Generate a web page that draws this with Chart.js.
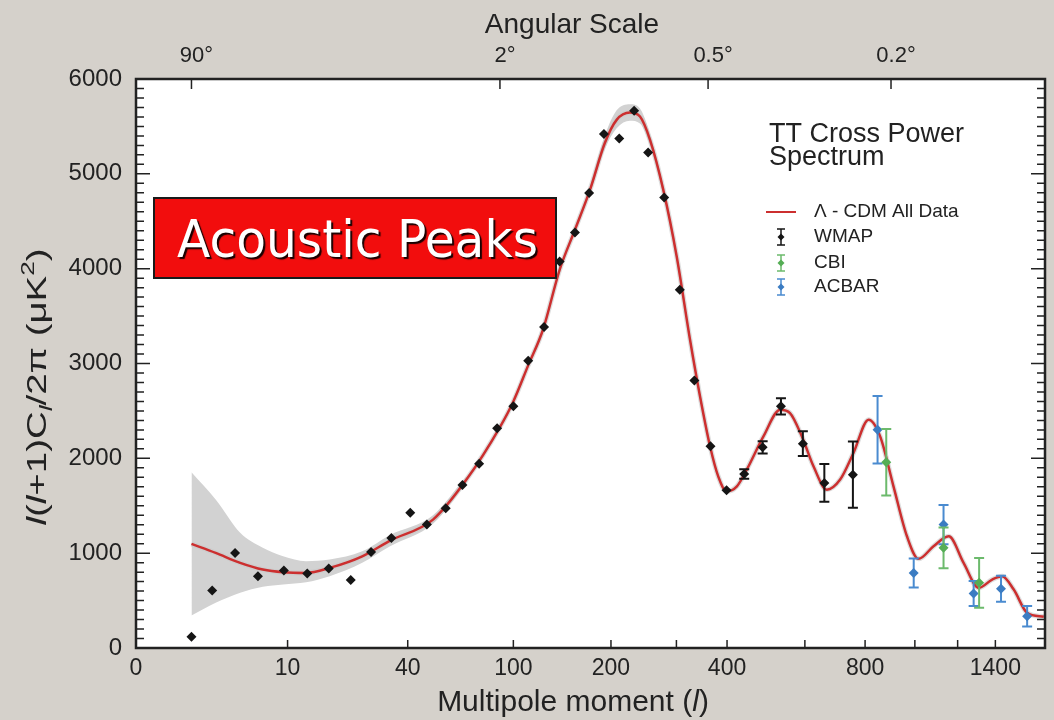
<!DOCTYPE html>
<html>
<head>
<meta charset="utf-8">
<title>TT Cross Power Spectrum</title>
<script src="https://cdn.jsdelivr.net/npm/chart.js@4.4.1/dist/chart.umd.min.js"></script>
<style>
  html, body { margin: 0; padding: 0; background: #d5d1cb; }
  #wrap { width: 1054px; height: 720px; }
</style>
</head>
<body>
<div id="wrap"><canvas id="spectrum" width="1054" height="720"></canvas></div>
<script>
// Axis ticks: multipole moment along the bottom, angular scale along the top
const xTickValues = [0, 10, 40, 100, 200, 300, 400, 600, 800, 1000, 1200, 1400];
const xTickLabels = ['0', '10', '40', '100', '200', '', '400', '', '800', '', '', '1400'];
const angleTickValues = [2, 90, 360, 900];
const angleTickLabels = ['90°', '2°', '0.5°', '0.2°'];
const L_MIN = 0.52;
const L_MAX = 1700;

// WMAP band powers
const wmapL = [2, 3, 4.5, 6.5, 9.5, 13, 17, 22, 27.5, 34, 41, 48, 57, 66, 76, 88, 100, 112, 126, 141,
  157, 173, 191, 211, 232, 253, 279, 306, 333, 365, 399, 439, 484, 532, 594, 660, 756];
const wmapVal = [118, 606, 1003, 757, 817, 785, 838, 718, 1013, 1161, 1425, 1301, 1473, 1720, 1944, 2316, 2548, 3030, 3385, 4076,
  4382, 4797, 5421, 5372, 5664, 5224, 4750, 3778, 2822, 2127, 1663, 1836, 2116, 2548, 2155, 1741, 1828];
const wmapErr = [0, 0, 0, 0, 0, 0, 0, 0, 0, 0, 0, 0, 0, 0, 0, 0, 0, 0, 0, 0,
  0, 0, 0, 0, 0, 0, 0, 0, 0, 0, 0, 50, 65, 85, 130, 200, 350];

// CBI
const cbiL = [881, 1131, 1311];
const cbiVal = [1958, 1056, 687];
const cbiErr = [350, 214, 263];

// ACBAR
const acbarL = [847, 995, 1131, 1282, 1432, 1587];
const acbarVal = [2302, 792, 1301, 574, 624, 335];
const acbarErr = [356, 153, 207, 132, 137, 109];

// Lambda-CDM best fit to all data
const modelL = [2, 3.2, 4.9, 7, 9.4, 12.8, 17.2, 25, 33.4, 50.8, 68.3, 90, 100, 112, 125, 141, 157, 174, 192, 207.5,
  226, 240.6, 256, 277.5, 300.5, 324.8, 344, 364, 381, 399, 422, 445, 486, 530, 557, 591, 626, 668, 712, 758,
  813, 857, 910, 966, 1016, 1084, 1156, 1230, 1309, 1382, 1438, 1506, 1587, 1692];
const modelVal = [1098, 1003, 898, 827, 799, 792, 845, 967, 1130, 1354, 1776, 2330, 2600, 2980, 3356, 3988, 4410, 4831, 5323, 5569,
  5646, 5604, 5358, 4831, 4129, 3251, 2653, 2127, 1810, 1652, 1705, 1881, 2232, 2513, 2478, 2232, 1916, 1670, 1776, 2057,
  2408, 2232, 1705, 1178, 940, 1073, 1178, 898, 634, 722, 757, 616, 371, 329];

// cosmic variance band, large scales
const bandL = [2, 3.2, 4.9, 7, 9.4, 12.8, 17.2, 25, 33.4, 50.8, 68.3];
const bandHi = [1853, 1565, 1214, 1056, 967, 915, 933, 1020, 1190, 1400, 1810];
const bandLo = [342, 476, 582, 645, 669, 693, 757, 898, 1070, 1310, 1740];

// cosmic variance band around the first peak
const peakBandL = [174, 192, 207.5, 226, 240.6, 256, 277.5];
const peakBandHi = [4870, 5400, 5670, 5735, 5690, 5420, 4870];
const peakBandLo = [4800, 5260, 5480, 5560, 5530, 5300, 4790];

const FONT = '"Liberation Sans", Arial, Helvetica, sans-serif';
const INK = '#222';

const toPoints = (xs, ys) => xs.map((x, i) => ({ x: x, y: ys[i] }));

// Multipole axis: position goes as l^(1/4)
const tickSets = { x: xTickValues, xTop: angleTickValues };

class QuarterPowerScale extends Chart.LinearScale {
  buildTicks() {
    return (tickSets[this.id] || []).map(v => ({ value: v }));
  }
  getPixelForValue(value) {
    if (value === null || isNaN(value)) {
      return NaN;
    }
    const t0 = Math.pow(this.min, 0.25);
    const t1 = Math.pow(this.max, 0.25);
    const t = Math.pow(Math.max(value, this.min), 0.25);
    return this.getPixelForDecimal((t - t0) / (t1 - t0));
  }
  getValueForPixel(pixel) {
    const t0 = Math.pow(this.min, 0.25);
    const t1 = Math.pow(this.max, 0.25);
    return Math.pow(t0 + this.getDecimalForPixel(pixel) * (t1 - t0), 4);
  }
}
QuarterPowerScale.id = 'quarterpower';
QuarterPowerScale.defaults = {};
Chart.register(QuarterPowerScale);

// Page background and white plot area
const backdrop = {
  id: 'backdrop',
  beforeDraw(chart) {
    const { ctx, chartArea: a } = chart;
    ctx.save();
    ctx.fillStyle = '#d5d1cb';
    ctx.fillRect(0, 0, chart.width, chart.height);
    ctx.fillStyle = '#ffffff';
    ctx.fillRect(a.left, a.top, a.right - a.left, a.bottom - a.top);
    ctx.restore();
  }
};

// Vertical error bars with caps, drawn just under each point set
const errorBars = {
  id: 'errorBars',
  beforeDatasetDraw(chart, args) {
    const ds = chart.data.datasets[args.index];
    if (!ds.errors) {
      return;
    }
    const y = chart.scales.y;
    const ctx = chart.ctx;
    ctx.save();
    ctx.strokeStyle = ds.barColor;
    ctx.lineWidth = 2;
    args.meta.data.forEach((pt, i) => {
      const e = ds.errors[i];
      if (!e) {
        return;
      }
      const v = ds.data[i].y;
      const top = y.getPixelForValue(v + e);
      const bot = y.getPixelForValue(v - e);
      ctx.beginPath();
      ctx.moveTo(pt.x, top);
      ctx.lineTo(pt.x, bot);
      ctx.moveTo(pt.x - 5, top);
      ctx.lineTo(pt.x + 5, top);
      ctx.moveTo(pt.x - 5, bot);
      ctx.lineTo(pt.x + 5, bot);
      ctx.stroke();
    });
    ctx.restore();
  }
};

// Box frame and inward tick marks
const frameTicks = {
  id: 'frameTicks',
  afterDatasetsDraw(chart) {
    const { ctx, chartArea: a, scales } = chart;
    ctx.save();
    ctx.strokeStyle = INK;
    ctx.lineWidth = 1.5;
    ctx.beginPath();
    scales.x.ticks.forEach((t, i) => {
      const px = scales.x.getPixelForTick(i);
      if (px > a.left + 2) {
        ctx.moveTo(px, a.bottom);
        ctx.lineTo(px, a.bottom - 8);
      }
    });
    scales.xTop.ticks.forEach((t, i) => {
      const px = scales.xTop.getPixelForTick(i);
      ctx.moveTo(px, a.top);
      ctx.lineTo(px, a.top + 10);
    });
    for (let v = scales.y.min; v <= scales.y.max; v += 100) {
      const py = scales.y.getPixelForValue(v);
      const len = v % 1000 === 0 ? 14 : 8;
      ctx.moveTo(a.left, py);
      ctx.lineTo(a.left + len, py);
      ctx.moveTo(a.right, py);
      ctx.lineTo(a.right - len, py);
    }
    ctx.stroke();
    ctx.lineWidth = 2.5;
    ctx.strokeRect(a.left, a.top, a.right - a.left, a.bottom - a.top);
    ctx.restore();
  }
};

// Text with italic / sub / superscript runs
function layoutRich(ctx, parts, size) {
  let w = 0;
  const items = parts.map(p => {
    const s = (p.sub || p.sup) ? size * 0.68 : size;
    const font = (p.it ? 'italic ' : '') + s + 'px ' + FONT;
    ctx.font = font;
    const item = { t: p.t, font: font, x: w, dy: p.sub ? size * 0.22 : p.sup ? -size * 0.42 : 0 };
    w += ctx.measureText(p.t).width;
    return item;
  });
  return { items: items, width: w };
}

function drawRich(ctx, parts, size, cx, baseline, targetWidth) {
  const lay = layoutRich(ctx, parts, size);
  const sx = targetWidth ? targetWidth / lay.width : 1;
  ctx.save();
  ctx.translate(cx, baseline);
  ctx.scale(sx, 1);
  ctx.textAlign = 'left';
  ctx.textBaseline = 'alphabetic';
  ctx.fillStyle = INK;
  lay.items.forEach(it => {
    ctx.font = it.font;
    ctx.fillText(it.t, it.x - lay.width / 2, it.dy);
  });
  ctx.restore();
}

function drawMarker(ctx, x, y, r, color) {
  ctx.beginPath();
  ctx.moveTo(x, y - r);
  ctx.lineTo(x + r, y);
  ctx.lineTo(x, y + r);
  ctx.lineTo(x - r, y);
  ctx.closePath();
  ctx.fillStyle = color;
  ctx.fill();
}

// Axis titles, legend block and the headline box
const annotations = {
  id: 'annotations',
  afterDraw(chart) {
    const ctx = chart.ctx;
    const ds = chart.data.datasets;

    drawRich(ctx, [{ t: 'Angular Scale' }], 28, 572, 33);
    drawRich(ctx, [{ t: 'Multipole moment (' }, { t: 'l', it: 1 }, { t: ')' }], 30, 573, 711);

    ctx.save();
    ctx.translate(46, 387);
    ctx.rotate(-Math.PI / 2);
    drawRich(ctx, [
      { t: 'l', it: 1 }, { t: '(' }, { t: 'l', it: 1 }, { t: '+1)C' }, { t: 'l', it: 1, sub: 1 },
      { t: '/2π (μK' }, { t: '2', sup: 1 }, { t: ')' }
    ], 28, 0, 0, 277);
    ctx.restore();

    // legend
    ctx.save();
    ctx.fillStyle = INK;
    ctx.textAlign = 'left';
    ctx.textBaseline = 'alphabetic';
    ctx.font = '27px ' + FONT;
    ctx.fillText('TT Cross Power', 769, 142);
    ctx.fillText('Spectrum', 769, 165);

    ctx.font = '19px ' + FONT;
    ctx.textBaseline = 'middle';
    ctx.strokeStyle = ds[3].borderColor;
    ctx.lineWidth = 2;
    ctx.beginPath();
    ctx.moveTo(766, 212);
    ctx.lineTo(796, 212);
    ctx.stroke();
    ctx.fillStyle = INK;
    ctx.fillText(ds[3].label, 814, 212);

    [[0, 237], [1, 263], [2, 287]].forEach(row => {
      const d = ds[row[0]];
      const y = row[1];
      ctx.strokeStyle = d.barColor;
      ctx.lineWidth = 1.5;
      ctx.beginPath();
      ctx.moveTo(781, y - 8);
      ctx.lineTo(781, y + 8);
      ctx.moveTo(777, y - 8);
      ctx.lineTo(785, y - 8);
      ctx.moveTo(777, y + 8);
      ctx.lineTo(785, y + 8);
      ctx.stroke();
      drawMarker(ctx, 781, y, 3.5, d.pointBackgroundColor);
      ctx.fillStyle = INK;
      ctx.fillText(d.label, 814, y);
    });
    ctx.restore();

    // headline box
    ctx.save();
    ctx.fillStyle = '#f20d0d';
    ctx.fillRect(154, 198, 402, 80);
    ctx.strokeStyle = '#1a1a1a';
    ctx.lineWidth = 2;
    ctx.strokeRect(154, 198, 402, 80);
    ctx.font = '52px "DejaVu Sans", sans-serif';
    const text = 'Acoustic Peaks';
    const tw = ctx.measureText(text).width;
    ctx.translate(177, 257);
    ctx.scale(361 / tw, 1);
    ctx.textAlign = 'left';
    ctx.textBaseline = 'alphabetic';
    ctx.shadowColor = 'rgba(0,0,0,0.9)';
    ctx.shadowOffsetX = 2;
    ctx.shadowOffsetY = 2;
    ctx.shadowBlur = 1;
    ctx.fillStyle = '#ffffff';
    ctx.fillText(text, 0, 0);
    ctx.restore();
  }
};

const pointSet = (label, xs, ys, errs, color, barColor) => ({
  label: label,
  data: toPoints(xs, ys),
  errors: errs,
  barColor: barColor,
  showLine: false,
  pointStyle: 'rectRot',
  pointRadius: 5,
  pointBorderWidth: 0,
  pointBackgroundColor: color,
  pointBorderColor: color
});

const bandSet = (xs, ys, fill) => ({
  label: '',
  data: toPoints(xs, ys),
  borderWidth: 0,
  pointRadius: 0,
  fill: fill,
  backgroundColor: '#d2d2d2',
  cubicInterpolationMode: 'monotone'
});

new Chart(document.getElementById('spectrum'), {
  type: 'line',
  data: {
    datasets: [
      pointSet('WMAP', wmapL, wmapVal, wmapErr, '#151515', '#151515'),
      pointSet('CBI', cbiL, cbiVal, cbiErr, '#55ad55', '#6cba6c'),
      pointSet('ACBAR', acbarL, acbarVal, acbarErr, '#3b7cc2', '#4a8bd0'),
      {
        label: 'Λ - CDM All Data',
        data: toPoints(modelL, modelVal),
        borderColor: '#cc2f2f',
        borderWidth: 2.5,
        pointRadius: 0,
        fill: false,
        cubicInterpolationMode: 'monotone'
      },
      {
        label: '',
        data: toPoints(modelL, modelVal),
        borderColor: 'rgba(200,200,200,0.6)',
        borderWidth: 5,
        pointRadius: 0,
        fill: false,
        cubicInterpolationMode: 'monotone'
      },
      bandSet(bandL, bandHi, '+1'),
      bandSet(bandL, bandLo, false),
      bandSet(peakBandL, peakBandHi, '+1'),
      bandSet(peakBandL, peakBandLo, false)
    ]
  },
  options: {
    responsive: false,
    animation: false,
    events: [],
    layout: { padding: 0 },
    plugins: {
      legend: { display: false },
      tooltip: { enabled: false }
    },
    scales: {
      x: {
        type: 'quarterpower',
        position: 'bottom',
        min: L_MIN,
        max: L_MAX,
        grid: { display: false, drawTicks: false },
        border: { display: false },
        ticks: {
          autoSkip: false,
          maxRotation: 0,
          padding: 7,
          color: INK,
          font: { family: FONT, size: 23 },
          callback: (value, index) => xTickLabels[index]
        },
        afterFit: s => { s.height = 72; }
      },
      xTop: {
        type: 'quarterpower',
        axis: 'x',
        position: 'top',
        min: L_MIN,
        max: L_MAX,
        grid: { display: false, drawTicks: false },
        border: { display: false },
        ticks: {
          autoSkip: false,
          maxRotation: 0,
          padding: 10,
          labelOffset: 5,
          color: INK,
          font: { family: FONT, size: 22 },
          callback: (value, index) => angleTickLabels[index]
        },
        afterFit: s => { s.height = 79; }
      },
      y: {
        type: 'linear',
        position: 'left',
        min: 0,
        max: 6000,
        grid: { display: false, drawTicks: false },
        border: { display: false },
        ticks: {
          stepSize: 1000,
          padding: 14,
          color: INK,
          font: { family: FONT, size: 24 },
          callback: value => String(value)
        },
        afterFit: s => { s.width = 136; }
      },
      yRight: {
        type: 'linear',
        position: 'right',
        min: 0,
        max: 6000,
        grid: { display: false, drawTicks: false },
        border: { display: false },
        ticks: { display: false },
        afterFit: s => { s.width = 9; }
      }
    }
  },
  plugins: [backdrop, errorBars, frameTicks, annotations]
});
</script>
</body>
</html>
